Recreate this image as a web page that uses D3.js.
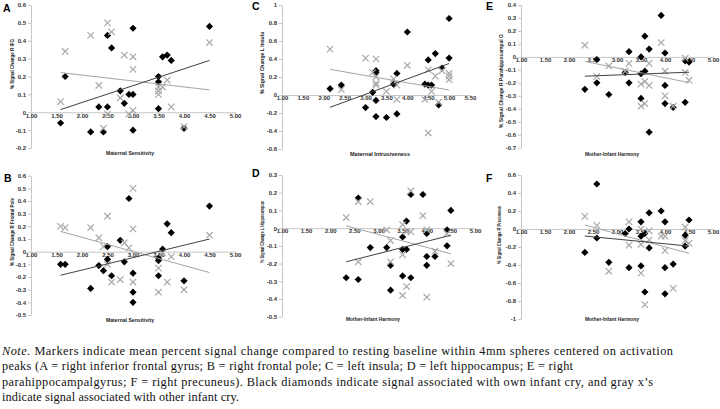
<!DOCTYPE html>
<html><head><meta charset="utf-8">
<script src="https://cdn.jsdelivr.net/npm/d3@7"></script>
<style>body{margin:0;background:#fff} svg{display:block}</style>
</head><body><svg id="c" width="720" height="409"></svg>
<script>
// ---------- DATA ----------
const xTicks5 = [1, 1.5, 2, 2.5, 3, 3.5, 4, 4.5, 5];
const xTicks55 = [1, 1.5, 2, 2.5, 3, 3.5, 4, 4.5, 5, 5.5];
const yTicksA = [-0.2, -0.1, 0, 0.1, 0.2, 0.3, 0.4, 0.5, 0.6];
const yTicksB = [-0.5, -0.4, -0.3, -0.2, -0.1, 0, 0.1, 0.2, 0.3, 0.4, 0.5, 0.6];
const yTicksC = [-0.6, -0.4, -0.2, 0, 0.2, 0.4, 0.6, 0.8, 1];
const yTicksD = [-0.5, -0.4, -0.3, -0.2, -0.1, 0, 0.1, 0.2, 0.3];
const yTicksE = [-0.7, -0.6, -0.5, -0.4, -0.3, -0.2, -0.1, 0, 0.1, 0.2, 0.3, 0.4];
const yTicksF = [-1, -0.8, -0.6, -0.4, -0.2, 0, 0.2, 0.4, 0.6];

const aOwn = [[1.58,-0.06],[1.67,0.20],[2.17,-0.11],[2.33,0.03],[2.42,-0.11],[2.50,0.03],[2.50,0.43],[2.58,0.36],[2.75,0.12],[2.83,0.05],[2.92,0.10],[3.00,0.10],[3.00,0.47],[3.00,-0.10],[3.50,0.20],[3.50,0.17],[3.50,0.02],[3.58,0.31],[3.67,0.32],[3.75,0.29],[4.00,-0.09],[4.50,0.48]];
const aOther = [[1.58,0.06],[1.67,0.34],[2.17,0.43],[2.33,0.15],[2.42,-0.09],[2.50,0.50],[2.50,-0.01],[2.58,0.45],[2.75,0.08],[2.83,0.32],[2.92,-0.01],[3.00,0.31],[3.00,0.24],[3.00,0.01],[3.50,0.10],[3.50,0.14],[3.58,0.14],[3.50,0.12],[3.67,0.18],[3.75,0.03],[4.00,-0.08],[4.50,0.39]];
const aTrendOwn = [[1.58,0.015],[4.50,0.29]];
const aTrendOther = [[1.58,0.222],[4.50,0.125]];

const bOwn = [[1.58,-0.10],[1.67,-0.10],[2.17,-0.29],[2.33,-0.11],[2.42,-0.15],[2.50,0.04],[2.50,-0.06],[2.58,-0.19],[2.75,0.09],[2.83,-0.08],[2.92,0.42],[3.00,-0.17],[3.00,-0.32],[3.00,-0.40],[3.50,-0.05],[3.50,-0.07],[3.50,-0.19],[3.58,0.02],[3.67,0.22],[3.75,0.15],[4.00,-0.23],[4.50,0.36]];
const bOther = [[1.58,0.20],[1.67,0.19],[2.17,0.19],[2.33,0.11],[2.42,0.04],[2.50,0.28],[2.50,-0.10],[2.58,-0.24],[2.75,-0.22],[2.83,0.07],[2.92,0.03],[3.00,0.50],[3.00,0.18],[3.00,-0.24],[3.50,-0.13],[3.50,-0.32],[3.58,-0.01],[3.67,-0.24],[3.75,-0.04],[4.00,-0.30],[4.50,0.13]];
const bTrendOwn = [[1.58,-0.186],[4.50,0.10]];
const bTrendOther = [[1.58,0.16],[4.50,-0.165]];

const cOwn = [[2.15,0.07],[2.42,0.11],[3.00,-0.14],[3.17,0.03],[3.25,0.27],[3.25,0.25],[3.25,-0.06],[3.25,-0.24],[3.50,-0.25],[3.67,0.12],[3.75,0.24],[3.75,-0.21],[4.00,0.70],[4.42,0.12],[4.50,0.39],[4.50,0.11],[4.58,0.11],[4.67,0.46],[4.75,-0.11],[4.83,0.30],[5.00,0.85],[5.00,0.41]];
const cOther = [[2.15,0.51],[2.42,0.06],[3.00,0.41],[3.17,0.25],[3.25,0.40],[3.25,0.20],[3.25,0.13],[3.25,0.11],[3.50,0.04],[3.67,0.18],[3.75,0.11],[3.75,-0.05],[4.00,0.33],[4.42,-0.05],[4.50,0.28],[4.50,-0.42],[4.58,0.04],[4.67,0.21],[4.75,-0.08],[4.83,0.27],[5.00,0.24],[5.00,0.21],[5.00,0.17]];
const cTrendOwn = [[2.15,-0.137],[5.00,0.35]];
const cTrendOther = [[2.15,0.285],[5.00,0.055]];

const dOwn = [[2.33,-0.28],[2.58,0.17],[2.58,-0.29],[2.83,-0.11],[3.17,-0.11],[3.25,-0.21],[3.25,-0.35],[3.50,-0.05],[3.50,-0.12],[3.50,-0.27],[3.58,0.04],[3.58,-0.12],[3.67,0.19],[3.67,-0.28],[3.92,0.19],[4.00,-0.03],[4.00,-0.16],[4.00,-0.21],[4.17,-0.16],[4.42,-0.01],[4.42,-0.10],[4.50,0.10]];
const dOther = [[2.33,0.06],[2.58,0.15],[2.58,-0.19],[2.83,0.15],[3.17,-0.01],[3.25,-0.07],[3.25,-0.19],[3.50,0.02],[3.50,-0.15],[3.50,-0.38],[3.58,-0.02],[3.58,-0.33],[3.67,0.21],[3.67,-0.02],[3.92,0.07],[4.00,-0.01],[4.00,-0.39],[4.17,-0.13],[4.42,-0.03],[4.50,-0.20]];
const dTrendOwn = [[2.33,-0.19],[4.50,-0.04]];
const dTrendOther = [[2.33,0.013],[4.50,-0.145]];

const eOwn = [[2.33,-0.25],[2.58,-0.02],[2.58,-0.20],[2.83,-0.29],[3.17,-0.12],[3.25,0.04],[3.25,-0.20],[3.50,0.00],[3.50,-0.13],[3.50,-0.32],[3.58,0.16],[3.58,-0.11],[3.67,0.06],[3.67,-0.58],[3.92,0.32],[4.00,0.03],[4.00,-0.22],[4.00,-0.36],[4.17,-0.39],[4.42,-0.03],[4.42,-0.35],[4.50,-0.04]];
const eOther = [[2.33,0.09],[2.58,-0.15],[2.83,-0.07],[3.17,-0.11],[3.25,-0.05],[3.50,-0.21],[3.50,-0.38],[3.58,-0.19],[3.58,-0.36],[3.67,-0.05],[3.67,-0.22],[3.92,0.11],[4.00,-0.11],[4.00,-0.30],[4.17,-0.38],[4.42,-0.12],[4.42,-0.01],[4.50,-0.18]];
const eTrendOwn = [[2.33,-0.149],[4.50,-0.118]];
const eTrendOther = [[2.33,-0.035],[4.50,-0.198]];

const fOwn = [[2.33,-0.26],[2.58,0.50],[2.58,-0.10],[2.83,-0.37],[3.17,-0.05],[3.25,0.00],[3.25,-0.43],[3.50,0.08],[3.50,-0.08],[3.50,-0.41],[3.58,-0.05],[3.58,-0.70],[3.67,0.18],[3.67,-0.21],[3.92,0.20],[4.00,0.08],[4.00,-0.43],[4.00,-0.72],[4.17,-0.39],[4.42,-0.07],[4.42,-0.19],[4.50,0.10]];
const fOther = [[2.33,0.14],[2.58,0.04],[2.83,-0.47],[3.25,0.08],[3.25,-0.18],[3.50,0.00],[3.50,-0.17],[3.50,-0.49],[3.58,-0.84],[3.67,-0.02],[3.67,-0.12],[3.92,-0.08],[4.00,-0.08],[4.00,-0.24],[4.17,-0.66],[4.42,0.02],[4.42,-0.13],[4.50,-0.16]];
const fTrendOwn = [[2.33,-0.078],[4.50,-0.19]];
const fTrendOther = [[2.33,0.044],[4.50,-0.27]];

const panelLetters = ["A","B","C","D","E","F"];
const yTitles = ["% Signal Change R IFG","% Signal Change R Frontal Pole","% Signal Change L Insula","% Signal Change L Hippocampus","% Signal Change R Parahippocampal G","% Signal Change R Precuneus"];
const xTitles = ["Maternal Sensitivity","Maternal Sensitivity","Maternal Intrusiveness","Mother-Infant Harmony","Mother-Infant Harmony","Mother-Infant Harmony"];
const noteLines = [
 "Markers indicate mean percent signal change compared to resting baseline within 4mm spheres centered on activation",
 "peaks (A = right inferior frontal gyrus; B = right frontal pole; C = left insula; D = left hippocampus; E = right",
 "parahippocampalgyrus; F = right precuneus). Black diamonds indicate signal associated with own infant cry, and gray x\u2019s",
 "indicate signal associated with other infant cry."
];

// ---------- LAYOUT ----------
const panels = [
 {own:aOwn, other:aOther, tOwn:aTrendOwn, tOther:aTrendOther, xDom:[1,5], xR:[31,235], yDom:[-0.2,0.6], yR:[148,5], yT:yTicksA, xT:xTicks5,
  letter:[3,12], yTitle:[12,64,50], xTitle:[130,155,48]},
 {own:bOwn, other:bOther, tOwn:bTrendOwn, tOther:bTrendOther, xDom:[1,5], xR:[31,235], yDom:[-0.5,0.6], yR:[315,175.7], yT:yTicksB, xT:xTicks5,
  letter:[4,182], yTitle:[12,232,68], xTitle:[130,322,48]},
 {own:cOwn, other:cOther, tOwn:cTrendOwn, tOther:cTrendOther, xDom:[1,5.5], xR:[282,470], yDom:[-0.6,1], yR:[149,5], yT:yTicksC, xT:xTicks55,
  letter:[252,10], yTitle:[262,63,62], xTitle:[380,156,60]},
 {own:dOwn, other:dOther, tOwn:dTrendOwn, tOther:dTrendOther, xDom:[1,5], xR:[282,475], yDom:[-0.5,0.3], yR:[316.7,175], yT:yTicksD, xT:xTicks5,
  letter:[252,177], yTitle:[262,232,62], xTitle:[373,321,54]},
 {own:eOwn, other:eOther, tOwn:eTrendOwn, tOther:eTrendOther, xDom:[1,5], xR:[521,713], yDom:[-0.7,0.4], yR:[147.7,5], yT:yTicksE, xT:xTicks5,
  letter:[486,10], yTitle:[501,81,94], xTitle:[612,156,54]},
 {own:fOwn, other:fOther, tOwn:fTrendOwn, tOther:fTrendOther, xDom:[1,5], xR:[521,713], yDom:[-1,0.6], yR:[319,175], yT:yTicksF, xT:xTicks5,
  letter:[486,182], yTitle:[499,235,58], xTitle:[612,321,54]}
];

const svg = d3.select("#c");
const axisColor = "#c6c6c6";
const labelColor = "#333";
const fmtY = d => String(+d.toFixed(2));
const fmtX = d3.format(".2f");
const diamond = "M0,-3.6L3.6,0L0,3.6L-3.6,0Z";
const sans = "Liberation Sans, Arial, sans-serif";

panels.forEach((p, i) => {
  const x = d3.scaleLinear().domain(p.xDom).range(p.xR);
  const y = d3.scaleLinear().domain(p.yDom).range(p.yR);
  const g = svg.append("g");

  // y axis
  const ya = g.append("g").attr("transform", `translate(${p.xR[0]},0)`)
    .call(d3.axisLeft(y).tickValues(p.yT).tickFormat(fmtY).tickSize(3).tickSizeOuter(0).tickPadding(2));
  ya.attr("font-size", null).attr("font-family", null);
  ya.select(".domain").attr("stroke", axisColor);
  ya.selectAll(".tick line").attr("stroke", axisColor);
  ya.selectAll(".tick text").attr("fill", labelColor).attr("font-family", sans)
    .attr("font-size", 6).attr("font-weight","bold");

  // x axis at zero
  const xa = g.append("g").attr("transform", `translate(0,${y(0)})`)
    .call(d3.axisBottom(x).tickValues(p.xT).tickFormat(fmtX).tickSize(3).tickSizeOuter(0).tickPadding(-2));
  xa.attr("font-size", null).attr("font-family", null);
  xa.select(".domain").attr("stroke", axisColor);
  xa.selectAll(".tick line").attr("stroke", axisColor);
  xa.selectAll(".tick text").attr("fill", labelColor).attr("font-family", sans)
    .attr("font-size", 6).attr("font-weight","bold");

  // own (black diamonds)
  g.append("g").selectAll("path").data(p.own).join("path")
    .attr("d", diamond).attr("transform", d => `translate(${x(d[0])},${y(d[1])})`)
    .attr("fill", "#000");

  // other (gray x)
  g.append("g").selectAll("path").data(p.other).join("path")
    .attr("transform", d => `translate(${x(d[0])},${y(d[1])})`)
    .attr("d", "M-3.2,-3.2L3.2,3.2M-3.2,3.2L3.2,-3.2")
    .attr("stroke", "#a8a8a8").attr("stroke-width", 1.2).attr("fill", "none");

  // trend lines
  const line = d3.line().x(d => x(d[0])).y(d => y(d[1]));
  g.append("path").attr("d", line(p.tOther)).attr("stroke", "#a5a5a5").attr("stroke-width", 1).attr("fill","none");
  g.append("path").attr("d", line(p.tOwn)).attr("stroke", "#404040").attr("stroke-width", 1).attr("fill","none");

  // letter
  g.append("text").attr("x", p.letter[0]).attr("y", p.letter[1]).text(panelLetters[i])
    .attr("font-family", sans).attr("font-weight","bold").attr("font-size", 10.5).attr("fill","#000");

  // y title
  g.append("text").attr("transform", `translate(${p.yTitle[0]},${p.yTitle[1]}) rotate(-90)`)
    .attr("text-anchor","middle").attr("dy","0.35em")
    .attr("textLength", p.yTitle[2]).attr("lengthAdjust","spacingAndGlyphs")
    .attr("font-family", sans).attr("font-weight","bold").attr("font-size", 6).attr("fill","#1a1a1a")
    .text(yTitles[i]);

  // x title
  g.append("text").attr("x", p.xTitle[0]).attr("y", p.xTitle[1]).attr("text-anchor","middle")
    .attr("textLength", p.xTitle[2]).attr("lengthAdjust","spacingAndGlyphs")
    .attr("font-family", sans).attr("font-weight","bold").attr("font-size", 6.2).attr("fill","#1a1a1a")
    .text(xTitles[i]);
});

// note text
const noteLen = [671, 571, 651, 237];
const noteY = [355, 370.3, 385.7, 401];
const nt = svg.append("g").attr("font-family","Liberation Serif, Times New Roman, serif").attr("font-size", 12.3).attr("fill","#111");
noteLines.forEach((s, i) => {
  const t = nt.append("text").attr("x", 2).attr("y", noteY[i]).attr("textLength", noteLen[i]).attr("lengthAdjust","spacing");
  if (i === 0) {
    t.append("tspan").attr("font-style","italic").text("Note.");
    t.append("tspan").text(" " + s);
  } else t.text(s);
});
</script></body></html>
